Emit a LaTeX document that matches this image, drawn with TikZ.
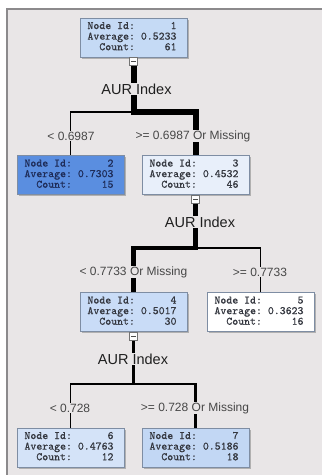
\documentclass[tikz,border=0pt]{standalone}
\usepackage{fontspec}
\setmainfont{Liberation Sans}
\newfontfamily\nodefont[FakeBold=0.6]{lmmono10-regular.otf}
\usetikzlibrary{shadows}
\definecolor{bg}{HTML}{E9E6E7}
\definecolor{frame}{HTML}{8C8A8C}
\definecolor{nodeborder}{HTML}{7E8DA3}
\definecolor{nodetext}{HTML}{34373F}
\definecolor{fillA}{HTML}{C5DAF5}
\definecolor{fillB}{HTML}{5A8EE0}
\definecolor{fillC}{HTML}{E8EFFA}
\definecolor{fillD}{HTML}{C9DCF7}
\definecolor{fillE}{HTML}{FFFFFF}
\definecolor{fillF}{HTML}{D4E3F8}
\definecolor{fillG}{HTML}{C2D7F4}
\definecolor{darktext}{HTML}{1E2C58}
\newcommand{\nodeinfo}[3]{\begin{tabular}{@{}r@{\hspace{6pt}}r@{}}Node Id: & #1\\ Average: & #2\\ Count: & #3\end{tabular}\hspace*{3pt}}
\begin{document}
\begin{tikzpicture}[x=1pt,y=-1pt,
  tnode/.style={draw=nodeborder, line width=0.8pt, minimum width=107pt, minimum height=39pt,
    inner sep=0pt, font=\nodefont\fontsize{11.3}{10.6}\selectfont, text=nodetext,
    drop shadow={shadow xshift=1.6pt, shadow yshift=-1.6pt, fill=black!45, opacity=0.6}},
  cbox/.style={draw=black!55, fill=white!92!bg, line width=0.6pt, minimum width=8pt, minimum height=8pt, inner sep=0pt,
    path picture={\draw[black!70, line width=0.6pt] ([xshift=-2.2pt]path picture bounding box.center) -- ([xshift=2.2pt]path picture bounding box.center);}},
  splitlab/.style={font=\fontsize{14.5}{16}\selectfont, fill=bg, inner sep=0.8pt, text=black!88},
  branchlab/.style={font=\fontsize{12}{14}\selectfont, fill=bg, inner sep=0.8pt, text=black!72},
  conn/.style={draw=black, line cap=butt}
]
\useasboundingbox (0,0) rectangle (322,475);
% window background and frame
\fill[white] (0,0) rectangle (322,475);
\fill[bg] (6,8) rectangle (322,475);
\draw[frame, line width=1.6pt] (6.8,475) -- (6.8,8.8) -- (322,8.8);

% tree nodes
\node[tnode, fill=fillA] (n1) at (133.5,37.5) {\nodeinfo{1}{0.5233}{61}};
\node[tnode, fill=fillB, text=darktext] (n2) at (70.5,175) {\nodeinfo{2}{0.7303}{15}};
\node[tnode, fill=fillC] (n3) at (195.5,175) {\nodeinfo{3}{0.4532}{46}};
\node[tnode, fill=fillD] (n4) at (133.5,312) {\nodeinfo{4}{0.5017}{30}};
\node[tnode, fill=fillE] (n5) at (260.5,312) {\nodeinfo{5}{0.3623}{16}};
\node[tnode, fill=fillF] (n6) at (70.5,447.5) {\nodeinfo{6}{0.4763}{12}};
\node[tnode, fill=fillG] (n7) at (195.5,447.5) {\nodeinfo{7}{0.5186}{18}};

% collapse boxes
\node[cbox, anchor=north] (c1) at (n1.south) {};
\node[cbox, anchor=north] (c3) at (n3.south) {};
\node[cbox, anchor=north] (c4) at (n4.south) {};

% split points
\coordinate (s1) at (133.5,112);
\coordinate (s3) at (195.5,248);
\coordinate (s4) at (133.5,384);

% connectors
\draw[conn, line width=1.7pt] (s1) -| (n2.north);
\draw[conn, line width=6pt] (c1.south) -- (s1) -| (n3.north);
\draw[conn, line width=1.8pt] (s3) -| (n5.north);
\draw[conn, line width=4.5pt] (c3.south) -- (s3) -| (n4.north);
\draw[conn, line width=1.6pt] (s4) -| (n6.north);
\draw[conn, line width=2.3pt] (c4.south) -- (s4) -| (n7.north);

% labels
\node[splitlab] (l1) at (136.5,89) {AUR Index};
\node[splitlab] (l3) at (200,222) {AUR Index};
\node[splitlab] (l4) at (133,359) {AUR Index};
\node[branchlab] (b2) at (71,136) {< 0.6987};
\node[branchlab] (b3) at (193,136) {>= 0.6987 Or Missing};
\node[branchlab] (b4) at (133.5,272) {< 0.7733 Or Missing};
\node[branchlab] (b5) at (260,272) {>= 0.7733};
\node[branchlab] (b6) at (70,408) {< 0.728};
\node[branchlab] (b7) at (195,408) {>= 0.728 Or Missing};
\end{tikzpicture}
\end{document}
